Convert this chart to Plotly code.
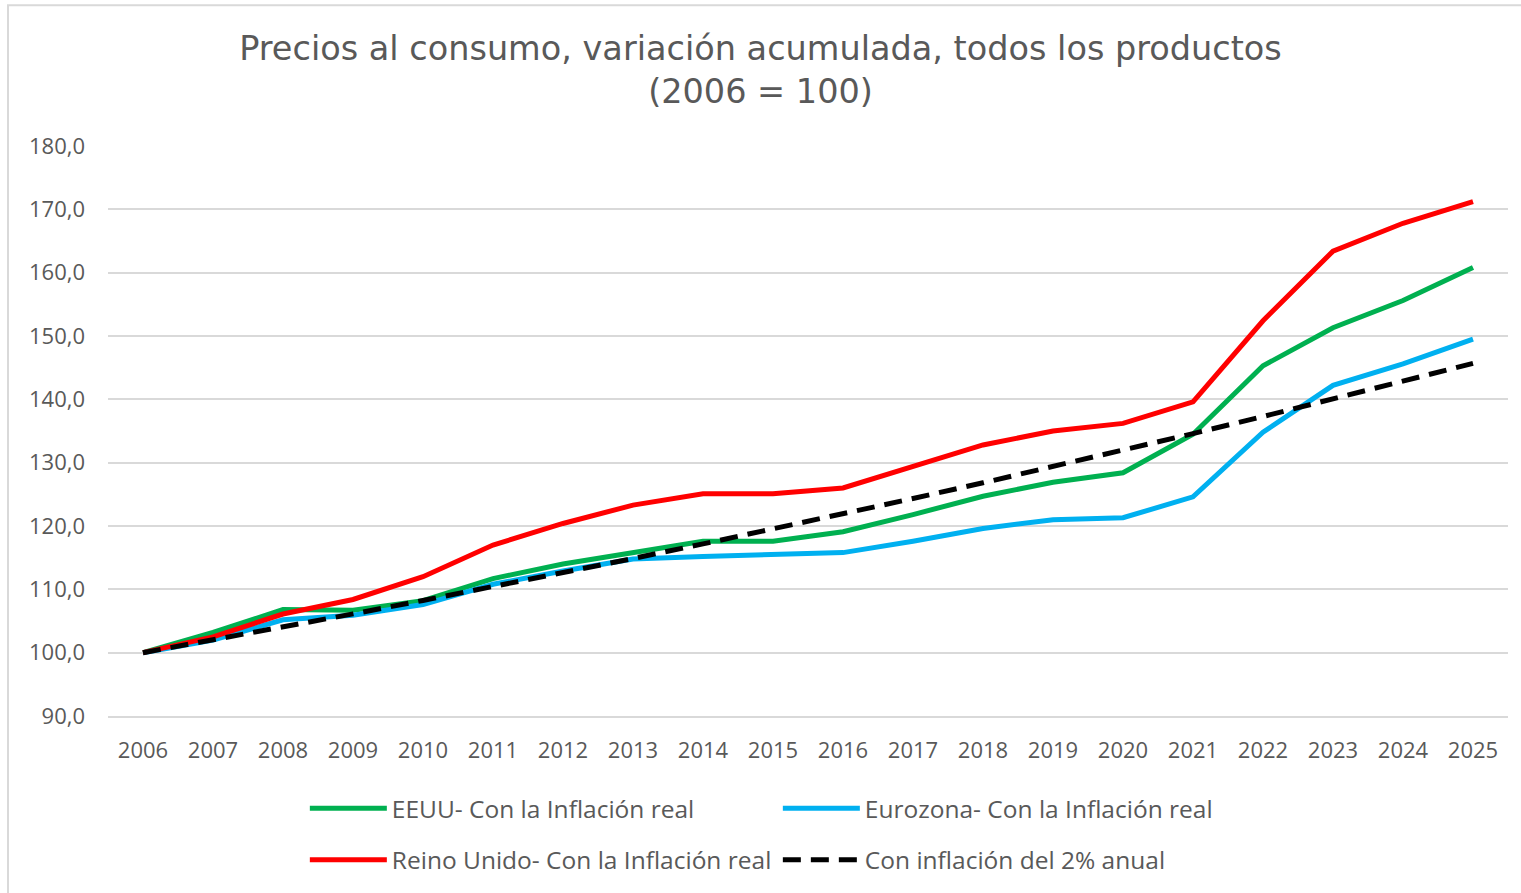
import plotly.graph_objects as go

years = [str(y) for y in range(2006, 2026)]

eeuu = [100.0, 103.2, 106.8, 106.7, 108.2, 111.7, 114.0, 115.7, 117.6, 117.6, 119.1,
        121.8, 124.7, 126.9, 128.4, 134.5, 145.3, 151.3, 155.6, 160.8]
eurozona = [100.0, 102.0, 105.2, 105.9, 107.6, 110.8, 112.9, 114.8, 115.2, 115.5, 115.8,
            117.6, 119.6, 121.0, 121.3, 124.6, 134.8, 142.2, 145.6, 149.5]
reino_unido = [100.0, 102.5, 106.1, 108.4, 112.0, 117.0, 120.4, 123.3, 125.1, 125.1, 126.0,
               129.5, 132.8, 135.0, 136.2, 139.6, 152.4, 163.4, 167.8, 171.2]
dos_pct = [100.0, 102.0, 104.04, 106.12, 108.24, 110.41, 112.62, 114.87, 117.17, 119.51,
           121.90, 124.34, 126.82, 129.36, 131.95, 134.59, 137.28, 140.02, 142.82, 145.68]

names = ["EEUU- Con la Inflación real", "Eurozona- Con la Inflación real",
         "Reino Unido- Con la Inflación real", "Con inflación del 2% anual"]

text_color = "#595959"
grid = "#D9D9D9"
font_main = "Open Sans"

fig = go.Figure()
fig.add_trace(go.Scatter(x=years, y=eeuu, name=names[0], mode="lines",
                         line=dict(color="#00B050", width=5), legend="legend"))
fig.add_trace(go.Scatter(x=years, y=eurozona, name=names[1], mode="lines",
                         line=dict(color="#00B0F0", width=5), legend="legend"))
fig.add_trace(go.Scatter(x=years, y=reino_unido, name=names[2], mode="lines",
                         line=dict(color="#FF0000", width=5), legend="legend2"))
fig.add_trace(go.Scatter(x=years, y=dos_pct, name=names[3], mode="lines",
                         line=dict(color="#000000", width=5, dash="18px,10px"), legend="legend2"))

leg_common = dict(orientation="h", xanchor="left", yanchor="middle",
                  font=dict(family=font_main, size=24.5, color=text_color),
                  bgcolor="rgba(0,0,0,0)", entrywidth=381, entrywidthmode="pixels",
                  itemwidth=77, tracegroupgap=0)

fig.update_layout(
    width=1521, height=893,
    paper_bgcolor="white", plot_bgcolor="white",
    separators=",.",
    margin=dict(l=108, r=13, t=146, b=176),
    title=dict(text="Precios al consumo, variación acumulada, todos los productos<br>(2006 = 100)",
               x=0.5, xanchor="center", y=0.933, yanchor="top",
               font=dict(family="DejaVu Sans", size=33.5, color=text_color)),
    xaxis=dict(type="category", range=[-0.5, 19.5], showgrid=False,
               showline=True, linecolor=grid, linewidth=1.5, ticks="",
               ticklabelstandoff=14,
               tickfont=dict(family=font_main, size=22, color=text_color)),
    yaxis=dict(range=[90, 180], dtick=10, tickformat=".1f", showgrid=True,
               gridcolor=grid, gridwidth=1.5, zeroline=False, ticks="",
               ticklen=0, ticklabelstandoff=22,
               tickfont=dict(family=font_main, size=22, color=text_color)),
    legend=dict(x=0.1406, y=-0.16, **leg_common),
    legend2=dict(x=0.1406, y=-0.25, **leg_common),
    shapes=[dict(type="rect", xref="paper", yref="paper",
                 x0=(8 - 108) / 1400, x1=1.2, y0=-0.6, y1=(717 - 5) / 571,
                 line=dict(color=grid, width=2), fillcolor="rgba(0,0,0,0)", layer="below")],
)

fig.write_html("out.html", config={"displayModeBar": False},
               post_script="document.body.style.margin='0';document.body.style.overflow='hidden';")
